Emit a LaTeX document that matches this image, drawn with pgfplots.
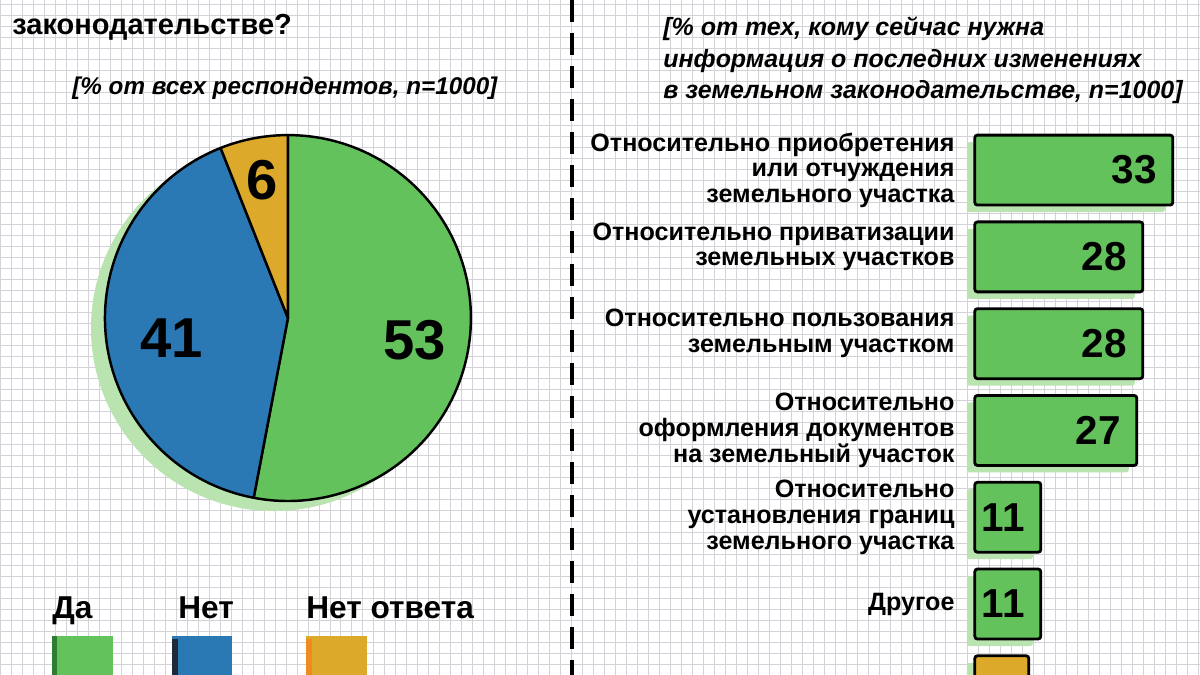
\documentclass[border=0pt]{standalone}
\usepackage{pgfplots}
\pgfplotsset{compat=1.18}
\usepackage{fontspec}
\setmainfont{Liberation Sans}
\usetikzlibrary{shadows}
\definecolor{grgreen}{HTML}{64C25C}
\definecolor{shgreen}{HTML}{B9E3AF}
\definecolor{pblue}{HTML}{2A78B4}
\definecolor{pyellow}{HTML}{DDA92A}
\definecolor{gridc}{HTML}{D2D2D8}
\definecolor{dkgreen}{HTML}{2E7D32}
\definecolor{dkblue}{HTML}{1E2A3A}
\definecolor{orng}{HTML}{F08C1E}
\newcommand{\lab}{\fontsize{14.3}{14.6}\selectfont\bfseries}
\begin{document}
\begin{tikzpicture}[x=0.02cm,y=0.02cm]
\useasboundingbox (0,0) rectangle (1200,675);
\clip (0,0) rectangle (1200,675);
\fill[white] (0,0) rectangle (1200,675);
\draw[gridc, line width=0.5pt] (0,0) grid[step=0.22cm] (1200,675);
\draw[line width=2.8pt, dash pattern=on 0.44cm off 0.22cm] (572,675) -- (572,0);
% titles
\node[anchor=base west, inner sep=0pt, font=\fontsize{16.5}{18}\selectfont\bfseries] at (12,640) {законодательстве?};
\node[anchor=base west, inner sep=0pt, font=\fontsize{13.8}{17}\selectfont\bfseries\itshape] at (72,580) {[\% от всех респондентов, n=1000]};
\node[anchor=base west, inner sep=0pt, font=\fontsize{14.2}{17}\selectfont\bfseries\itshape] at (663,639) {[\% от тех, кому сейчас нужна};
\node[anchor=base west, inner sep=0pt, font=\fontsize{14.2}{17}\selectfont\bfseries\itshape] at (663,607) {информация о последних изменениях};
\node[anchor=base west, inner sep=0pt, font=\fontsize{14.2}{17}\selectfont\bfseries\itshape] at (663,576) {в земельном законодательстве, n=1000]};
% legend
\node[anchor=base west, inner sep=0pt, font=\fontsize{18}{20}\selectfont\bfseries] at (52,56) {Да};
\node[anchor=base west, inner sep=0pt, font=\fontsize{18}{20}\selectfont\bfseries] at (178,56) {Нет};
\node[anchor=base west, inner sep=0pt, font=\fontsize{18}{20}\selectfont\bfseries] at (306,56) {Нет ответа};
\fill[grgreen] (52,-10) rectangle (113,39);
\fill[dkgreen] (52,-10) rectangle (57,39);
\fill[pblue] (172,-10) rectangle (232,39);
\fill[dkblue] (172,-10) rectangle (178,36);
\fill[pyellow] (306,-10) rectangle (367,39);
\fill[orng] (306,-10) rectangle (312,36);
% pie
\pgfmathsetmacro{\aA}{90}
\pgfmathsetmacro{\aB}{90-53*3.6}
\pgfmathsetmacro{\aC}{\aB-41*3.6}
\pgfmathsetmacro{\aD}{\aC-6*3.6}
\pgfmathsetmacro{\xA}{3.66*cos(\aA)}\pgfmathsetmacro{\yA}{3.66*sin(\aA)}
\pgfmathsetmacro{\xB}{3.66*cos(\aB)}\pgfmathsetmacro{\yB}{3.66*sin(\aB)}
\pgfmathsetmacro{\xC}{3.66*cos(\aC)}\pgfmathsetmacro{\yC}{3.66*sin(\aC)}
\begin{axis}[at={(5.76cm,7.14cm)}, anchor=origin, x=1cm, y=1cm,
  xmin=-4, xmax=4, ymin=-4, ymax=4, hide axis, clip=false]
  \fill[shgreen] (axis cs:-0.28,-0.2) circle[radius=3.66cm];
  \filldraw[fill=grgreen, draw=black, line width=1.4pt, line join=round]
    (axis cs:0,0) -- (axis cs:\xA,\yA) arc[start angle=\aA, end angle=\aB, radius=3.66cm] -- cycle;
  \filldraw[fill=pblue, draw=black, line width=1.4pt, line join=round]
    (axis cs:0,0) -- (axis cs:\xB,\yB) arc[start angle=\aB, end angle=\aC, radius=3.66cm] -- cycle;
  \filldraw[fill=pyellow, draw=black, line width=1.4pt, line join=round]
    (axis cs:0,0) -- (axis cs:\xC,\yC) arc[start angle=\aC, end angle=\aD, radius=3.66cm] -- cycle;
  \node[font=\fontsize{32}{34}\selectfont\bfseries] at (axis cs:2.54,-0.44) {53};
  \node[font=\fontsize{32}{34}\selectfont\bfseries] at (axis cs:-2.32,-0.40) {41};
  \node[font=\fontsize{32}{34}\selectfont\bfseries] at (axis cs:-0.52,2.76) {6};
\end{axis}
% bars
\begin{axis}[at={(19.5cm,10.1cm)}, anchor=origin, x=0.12cm, y=1.736cm, y dir=reverse,
  xmin=0, xmax=36, ymin=-0.6, ymax=6.6, xbar, bar width=1.4cm, bar shift=0pt,
  axis line style={draw=none}, major tick length=0pt, xtick=\empty,
  ytick={0,...,5}, clip=false,
  yticklabels={{Относительно приобретения\\или отчуждения\\земельного участка},
    {Относительно приватизации\\земельных участков\\\mbox{}},
    {Относительно пользования\\земельным участком\\\mbox{}},
    {Относительно\\оформления документов\\на земельный участок},
    {Относительно\\установления границ\\земельного участка},
    {Другое}},
  yticklabel style={align=right, font=\lab, inner sep=0pt, xshift=-0.4cm},
  point meta=x, /pgf/number format/assume math mode=true,
  every node near coord/.append style={anchor=east, xshift=-0.18cm, font=\fontsize{23}{24}\selectfont\bfseries, text=black},
  ]
  \addplot[draw=black, line width=1.6pt, rounded corners=1.5pt, fill=grgreen, nodes near coords,
    drop shadow={shadow xshift=-0.16cm, shadow yshift=-0.14cm, fill=shgreen, opacity=1, draw=none}]
    coordinates {(33,0) (28,1) (28,2) (27,3) (11,4) (11,5)};
  \addplot[draw=black, line width=1.6pt, rounded corners=1.5pt, fill=pyellow,
    drop shadow={shadow xshift=-0.16cm, shadow yshift=-0.14cm, fill=shgreen, opacity=1, draw=none}]
    coordinates {(9,6)};
\end{axis}
\end{tikzpicture}
\end{document}
